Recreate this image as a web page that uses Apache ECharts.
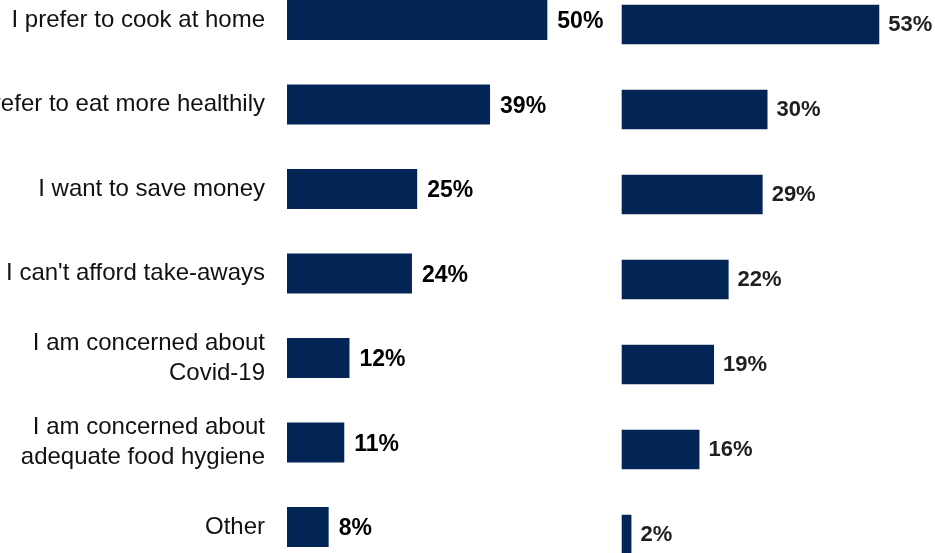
<!DOCTYPE html>
<html>
<head>
<meta charset="utf-8">
<script src="https://cdn.jsdelivr.net/npm/echarts@6/dist/echarts.min.js"></script>
<style>
  html, body { margin: 0; padding: 0; background: #fff; }
  #chart { width: 935px; height: 553px; }
</style>
</head>
<body>
<div id="chart"></div>
<script>
// Reasons for eating at home, two survey waves
const categories = [
  "I prefer to cook at home",
  "I prefer to eat more healthily",
  "I want to save money",
  "I can't afford take-aways",
  "I am concerned about\nCovid-19",
  "I am concerned about\nadequate food hygiene",
  "Other"
];
const waveA = [50, 39, 25, 24, 12, 11, 8];
const waveB = [53, 30, 29, 22, 19, 16, 2];

const BAR = '#032556';
const FONT = '"Liberation Sans", Arial, sans-serif';

const chart = echarts.init(document.getElementById('chart'), null, { renderer: 'canvas' });

function valueAxis(idx, max) {
  return {
    type: 'value', gridIndex: idx, min: 0, max: max,
    show: false, splitLine: { show: false }
  };
}
function catAxis(idx, showLabels) {
  return {
    type: 'category', gridIndex: idx, data: categories, inverse: true,
    axisLine: { show: false }, axisTick: { show: false },
    axisLabel: {
      show: showLabels, margin: 22, fontFamily: FONT, fontSize: 24,
      color: '#111', lineHeight: 30, align: 'right'
    }
  };
}

chart.setOption({
  animation: false,
  backgroundColor: '#fff',
  grid: [
    { left: 287, top: -22.25, width: 312.4, height: 591.5, containLabel: false, outerBoundsMode: 'none' },
    { left: 621.7, top: -18, width: 267.3, height: 595, containLabel: false, outerBoundsMode: 'none' }
  ],
  xAxis: [valueAxis(0, 60), valueAxis(1, 55)],
  yAxis: [catAxis(0, true), catAxis(1, false)],
  series: [
    {
      type: 'bar', xAxisIndex: 0, yAxisIndex: 0, data: waveA, barWidth: 40,
      itemStyle: { color: BAR },
      label: {
        show: true, position: 'right', distance: 10, offset: [0, 2], formatter: '{c}%',
        fontFamily: FONT, fontSize: 23, fontWeight: 'bold', color: '#000'
      }
    },
    {
      type: 'bar', xAxisIndex: 1, yAxisIndex: 1, data: waveB, barWidth: 39.5,
      itemStyle: { color: BAR },
      label: {
        show: true, position: 'right', distance: 9, formatter: '{c}%',
        fontFamily: FONT, fontSize: 22, fontWeight: 'bold', color: '#1f1f1f'
      }
    }
  ]
});
</script>
</body>
</html>
